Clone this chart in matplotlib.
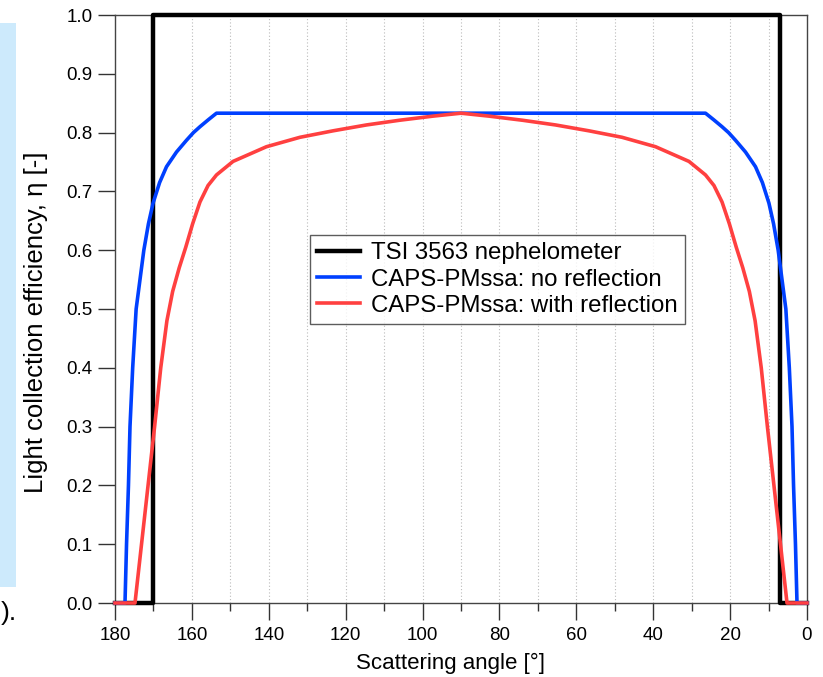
import matplotlib
matplotlib.use("Agg")
import matplotlib.pyplot as plt
from matplotlib.patches import Rectangle
from matplotlib.ticker import MultipleLocator, FormatStrFormatter

plt.rcParams['font.family'] = ['Liberation Sans', 'DejaVu Sans']

# TSI 3563 nephelometer (truncation 7-170 deg)
tsi_angle = [180, 170, 170, 7, 7, 0]
tsi_eff = [0, 0, 1, 1, 0, 0]

# CAPS-PMssa: no reflection
blue_angle = [180, 177.4, 177.0, 176.5, 176.1, 175.4, 174.5, 173.5, 172.5, 171.3, 170.1, 168.4, 166.6,
              164.0, 161.4, 159.6, 157.9, 155.7, 153.6,
              26.4, 24.3, 22.1, 20.4, 18.6, 16.0, 13.4, 11.6, 9.9, 8.7, 7.5, 6.5, 5.5, 4.6, 3.9, 3.5, 3.0, 2.6, 0]
blue_eff = [0, 0, 0.10, 0.20, 0.30, 0.40, 0.50, 0.55, 0.60, 0.645, 0.68, 0.715, 0.742,
            0.767, 0.787, 0.800, 0.810, 0.822, 0.833,
            0.833, 0.822, 0.810, 0.800, 0.787, 0.767, 0.742, 0.715, 0.68, 0.645, 0.60, 0.55, 0.50, 0.40, 0.30,
            0.20, 0.10, 0, 0]

# CAPS-PMssa: with reflection
red_angle = [180, 174.8, 173.1, 171.4, 169.7, 168.1, 166.5, 165.0, 163.3, 161.6, 159.8, 157.9, 155.8, 153.6,
             149.3, 140.6, 131.9, 123.3, 114.6, 106.0, 97.3, 90.0,
             82.7, 74.0, 65.4, 56.7, 48.1, 39.4, 30.7, 26.4,
             24.2, 22.1, 20.2, 18.4, 16.7, 15.0, 13.5, 11.9, 10.3, 8.6, 6.9, 5.2, 0]
red_eff = [0, 0, 0.10, 0.20, 0.30, 0.40, 0.48, 0.53, 0.57, 0.605, 0.645, 0.682, 0.710, 0.728,
           0.751, 0.776, 0.792, 0.803, 0.813, 0.821, 0.828, 0.833,
           0.828, 0.821, 0.813, 0.803, 0.792, 0.776, 0.751, 0.728,
           0.710, 0.682, 0.645, 0.605, 0.57, 0.53, 0.48, 0.40, 0.30, 0.20, 0.10, 0, 0]

labels = ["TSI 3563 nephelometer", "CAPS-PMssa: no reflection", "CAPS-PMssa: with reflection"]

W, H = 823, 677
fig = plt.figure(figsize=(W / 100, H / 100), dpi=100)
ax = fig.add_axes([115 / W, 1 - 603 / H, 692 / W, 588 / H])

# slide remnants
fig.patches.append(Rectangle((0, 1 - 587 / H), 16 / W, 564 / H, transform=fig.transFigure,
                             facecolor='#cdeafc', edgecolor='none', zorder=0))
fig.text(0.5 / W, 1 - 613 / H, ").", fontsize=19, ha='left', va='center', color='black')

ax.plot(tsi_angle, tsi_eff, color='black', lw=3.2, label=labels[0], clip_on=False, zorder=3)
ax.plot(blue_angle, blue_eff, color='#0040ff', lw=2.6, label=labels[1], clip_on=False, zorder=4)
ax.plot(red_angle, red_eff, color='#ff4040', lw=2.6, label=labels[2], clip_on=False, zorder=5)

ax.set_xlim(180, 0)
ax.set_ylim(0, 1.0)
ax.xaxis.set_major_locator(MultipleLocator(20))
ax.xaxis.set_minor_locator(MultipleLocator(10))
ax.yaxis.set_major_locator(MultipleLocator(0.1))
ax.yaxis.set_major_formatter(FormatStrFormatter('%.1f'))

for a in range(10, 180, 10):
    ax.axvline(a, color='#bbbbbb', lw=0.8, ls=(0, (1, 2)), zorder=1)

ax.tick_params(axis='both', which='major', direction='out', length=12, width=1, labelsize=13.5, color='#333333')
ax.tick_params(axis='x', which='minor', direction='out', length=6, width=1, color='#333333')
ax.tick_params(axis='x', pad=5)
ax.tick_params(axis='y', pad=4)
for s in ax.spines.values():
    s.set_color('#444444')
    s.set_linewidth(1)

ax.set_xlabel("Scattering angle [°]", fontsize=16)
ax.xaxis.set_label_coords((451 - 115) / 692, (603 - 653) / 588)
ax.set_ylabel("Light collection efficiency, η [-]", fontsize=18.5)
ax.yaxis.set_label_coords((48 - 115) / 692, (603 - 322) / 588)

leg = ax.legend(loc='upper left', bbox_to_anchor=((310 - 115) / 692, (603 - 235) / 588),
                borderaxespad=0, fontsize=17.3, frameon=True, fancybox=False, edgecolor='#333333',
                handlelength=1.8, handletextpad=0.45, borderpad=0.3, labelspacing=0.18)
leg.get_frame().set_linewidth(1)

fig.savefig("out.png", dpi=100)
